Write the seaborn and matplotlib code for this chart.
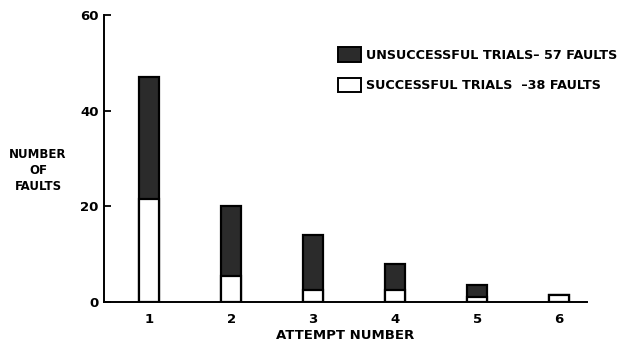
import matplotlib
matplotlib.use("Agg")
import matplotlib.pyplot as plt
from matplotlib.patches import Patch
import seaborn as sns
import pandas as pd

attempts = [1, 2, 3, 4, 5, 6]
successful = [21.5, 5.5, 2.5, 2.5, 1.0, 1.5]
unsuccessful = [25.5, 14.5, 11.5, 5.5, 2.5, 0.0]
y_ticks = [0, 20, 40, 60]
legend_labels = ["UNSUCCESSFUL TRIALS\u2013 57 FAULTS", "SUCCESSFUL TRIALS  \u201338 FAULTS"]

df = pd.DataFrame({"attempt": attempts, "successful": successful, "unsuccessful": unsuccessful})
df["total"] = df["successful"] + df["unsuccessful"]

sns.set_theme(style="white")
plt.rcParams["font.family"] = ["DejaVu Sans"]
plt.rcParams["font.weight"] = "bold"
plt.rcParams["text.color"] = "black"
plt.rcParams["axes.labelcolor"] = "black"

fig = plt.figure(figsize=(6.28, 3.46), dpi=100)
ax = fig.add_axes([104/628, 1 - 302/346, (587-104)/628, (302-15)/346])

dark = "#2b2b2b"
sns.barplot(data=df, x="attempt", y="total", native_scale=True, width=0.24,
            color=dark, edgecolor="black", linewidth=1.6, saturation=1, ax=ax)
sns.barplot(data=df, x="attempt", y="successful", native_scale=True, width=0.24,
            color="white", edgecolor="black", linewidth=1.6, saturation=1, ax=ax)

ax.set_xlim(0.45, 6.34)
ax.set_ylim(0, 60)
ax.set_yticks(y_ticks)
ax.set_xticks(attempts)
ax.set_xticklabels([str(a) for a in attempts], fontsize=9.5, fontweight="bold", color="black")
ax.set_yticklabels([str(t) for t in y_ticks], fontsize=9.5, fontweight="bold", color="black")
ax.tick_params(axis="y", direction="in", length=5, width=1.3, pad=4, left=True, colors="black")
ax.tick_params(axis="x", length=0, pad=8, colors="black")
for s in ["top", "right"]:
    ax.spines[s].set_visible(False)
for s in ["left", "bottom"]:
    ax.spines[s].set_color("black")
    ax.spines[s].set_linewidth(1.4)
ax.set_xlabel("ATTEMPT NUMBER", fontsize=9.5, fontweight="bold", labelpad=2, color="black")
ax.set_ylabel("")
fig.text(38/628, 1 - 170/346, "NUMBER\nOF\nFAULTS", ha="center", va="center",
         fontsize=8.5, fontweight="bold", linespacing=1.3, color="black")

handles = [Patch(facecolor=dark, edgecolor="black", linewidth=1.4),
           Patch(facecolor="white", edgecolor="black", linewidth=1.4)]
leg = fig.legend(handles, legend_labels, loc="upper left", bbox_to_anchor=(338/628, 1 - 47/346),
           frameon=False, handlelength=1.8, handleheight=1.4,
           handletextpad=0.4, labelspacing=1.25, borderaxespad=0, borderpad=0,
           prop={"weight": "bold", "size": 9.2})
for t in leg.get_texts():
    t.set_color("black")

fig.savefig("out.png", dpi=100)
